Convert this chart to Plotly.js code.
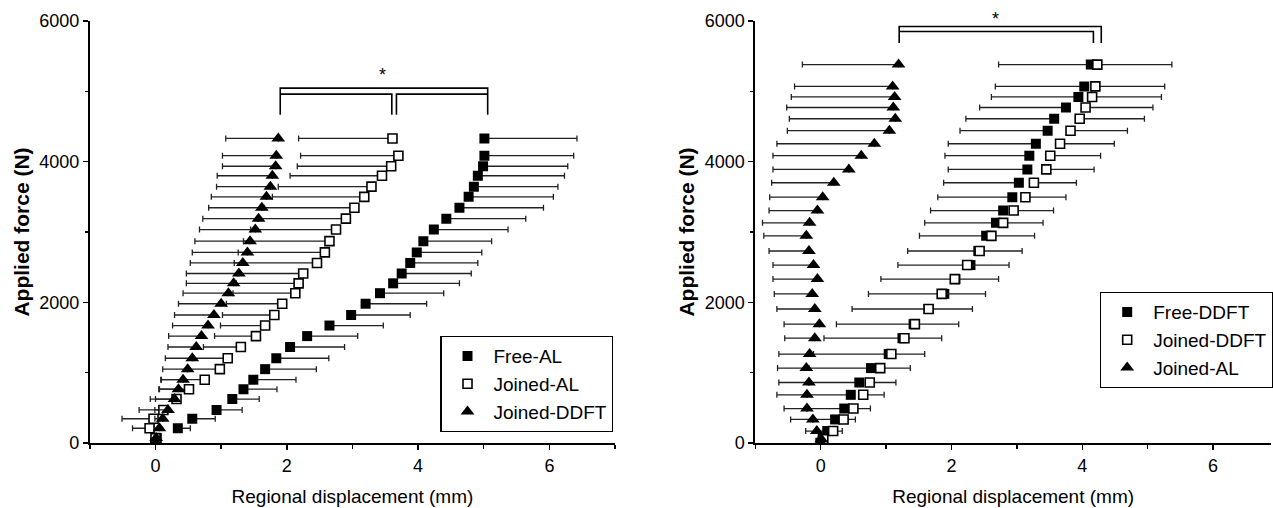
<!DOCTYPE html>
<html>
<head>
<meta charset="utf-8">
<script src="https://cdn.plot.ly/plotly-3.0.1.min.js"></script>
<style>
  html, body { margin: 0; padding: 0; background: #fff; overflow: hidden; }
  #chart { width: 1273px; height: 508px; }
</style>
</head>
<body>
<div id="chart"></div>
<script>
// ---------- Left panel data (force in N, displacement in mm) ----------
const forceLeft = [0, 70, 210, 345, 470, 625, 765, 900, 1050, 1205, 1365, 1520, 1670, 1820, 1980,
  2130, 2270, 2410, 2560, 2710, 2870, 3035, 3190, 3345, 3500, 3645, 3800, 3935, 4085, 4330];

const freeAL_x = [0, 0.02, 0.34, 0.56, 0.93, 1.17, 1.34, 1.49, 1.67, 1.84, 2.05, 2.31, 2.65, 2.98, 3.20,
  3.42, 3.62, 3.75, 3.88, 3.98, 4.08, 4.24, 4.43, 4.63, 4.77, 4.85, 4.91, 4.99, 5.01, 5.01];
const freeAL_err = [0, 0.02, 0.19, 0.35, 0.39, 0.41, 0.51, 0.65, 0.78, 0.80, 0.83, 0.77, 0.82, 0.90, 0.93,
  0.97, 1.01, 1.06, 1.03, 0.99, 1.04, 1.13, 1.21, 1.28, 1.29, 1.28, 1.32, 1.29, 1.36, 1.41];

const joinedAL_x = [0, 0.0, -0.09, -0.03, 0.12, 0.32, 0.51, 0.75, 0.98, 1.10, 1.30, 1.53, 1.67, 1.81, 1.93,
  2.13, 2.18, 2.25, 2.46, 2.58, 2.65, 2.75, 2.90, 3.03, 3.18, 3.29, 3.45, 3.59, 3.70, 3.61];
const joinedAL_err = [0, 0.05, 0.26, 0.48, 0.37, 0.40, 0.45, 0.66, 0.50, 0.52, 0.57, 0.63, 0.68, 0.79, 0.85,
  0.95, 0.95, 1.00, 1.26, 1.32, 1.31, 1.30, 1.35, 1.38, 1.40, 1.42, 1.40, 1.43, 1.49, 1.43];

const joinedDDFT_x = [0, 0.01, 0.06, 0.11, 0.19, 0.29, 0.35, 0.42, 0.49, 0.56, 0.62, 0.70, 0.80, 0.89, 1.00,
  1.11, 1.19, 1.27, 1.33, 1.40, 1.44, 1.52, 1.57, 1.62, 1.69, 1.75, 1.78, 1.83, 1.84, 1.87];
const joinedDDFT_err = [0, 0.03, 0.08, 0.12, 0.20, 0.29, 0.30, 0.34, 0.38, 0.41, 0.43, 0.50, 0.54, 0.60, 0.65,
  0.69, 0.72, 0.80, 0.80, 0.84, 0.84, 0.85, 0.85, 0.81, 0.84, 0.82, 0.84, 0.81, 0.82, 0.80];

// ---------- Right panel data ----------
const forceRight = [0, 55, 170, 335, 490, 685, 860, 1065, 1265, 1490, 1690, 1905, 2120, 2330, 2530,
  2730, 2945, 3130, 3305, 3495, 3700, 3890, 4085, 4255, 4440, 4610, 4770, 4920, 5070, 5380];

const freeDDFT_x = [0, 0.03, 0.10, 0.22, 0.36, 0.46, 0.59, 0.77, 1.04, 1.25, 1.42, 1.65, 1.89, 2.06, 2.29,
  2.41, 2.53, 2.68, 2.79, 2.93, 3.03, 3.16, 3.19, 3.29, 3.47, 3.57, 3.75, 3.94, 4.03, 4.13];
const freeDDFT_err = [0, 0.03, 0.16, 0.34, 0.57, 0.67, 0.77, 0.95, 1.15, 1.20, 1.18, 1.17, 1.16, 1.14, 1.11,
  1.08, 1.02, 1.09, 1.11, 1.14, 1.15, 1.21, 1.29, 1.34, 1.34, 1.35, 1.32, 1.33, 1.36, 1.41];

const joinedDDFT2_x = [0, 0.04, 0.19, 0.35, 0.50, 0.65, 0.75, 0.91, 1.08, 1.28, 1.44, 1.65, 1.85, 2.05, 2.24,
  2.43, 2.61, 2.79, 2.95, 3.13, 3.26, 3.45, 3.51, 3.66, 3.82, 3.96, 4.05, 4.15, 4.20, 4.23];
const joinedDDFT2_err = [0, 0.04, 0.14, 0.18, 0.26, 0.32, 0.40, 0.46, 0.51, 0.57, 0.67, 0.67, 0.67, 0.67, 0.64,
  0.65, 0.66, 0.61, 0.61, 0.62, 0.65, 0.73, 0.77, 0.83, 0.87, 0.99, 1.03, 1.06, 1.06, 1.14];

const joinedAL2_x = [0, 0.01, -0.06, -0.12, -0.21, -0.21, -0.18, -0.22, -0.17, -0.09, -0.02, -0.09, -0.13, -0.05, -0.11,
  -0.18, -0.22, -0.17, -0.05, 0.03, 0.20, 0.43, 0.62, 0.82, 1.05, 1.14, 1.11, 1.13, 1.10, 1.19];
const joinedAL2_err = [0, 0.05, 0.17, 0.34, 0.35, 0.46, 0.46, 0.44, 0.47, 0.46, 0.54, 0.58, 0.58, 0.68, 0.62,
  0.61, 0.65, 0.72, 0.74, 0.81, 0.95, 1.16, 1.35, 1.49, 1.56, 1.62, 1.63, 1.58, 1.50, 1.47];

// ---------- Styling ----------
const FONT = 'Liberation Sans, Arial, sans-serif';
const zeros = arr => arr.map(() => 0);

function errLeft(vals) {
  return {type: 'data', symmetric: false, array: zeros(vals), arrayminus: vals,
          color: '#222', thickness: 1.3, width: 3};
}
function errRight(vals) {
  return {type: 'data', symmetric: false, array: vals, arrayminus: zeros(vals),
          color: '#222', thickness: 1.3, width: 3};
}
const mFilled = {symbol: 'square', size: 10, color: '#000', line: {color: '#000', width: 0}};
const mOpenFill = {symbol: 'square', size: 9, color: '#fff', line: {color: '#000', width: 1.6}};
const mTri = {symbol: 'triangle-up', size: 12, color: '#000', line: {width: 0}};

const traces = [
  {x: freeAL_x, y: forceLeft, xaxis: 'x', yaxis: 'y', mode: 'markers', name: 'Free-AL',
   marker: mFilled, error_x: errRight(freeAL_err), legend: 'legend'},
  {x: joinedAL_x, y: forceLeft, xaxis: 'x', yaxis: 'y', mode: 'markers', name: 'Joined-AL',
   marker: mOpenFill, error_x: errLeft(joinedAL_err), legend: 'legend'},
  {x: joinedDDFT_x, y: forceLeft, xaxis: 'x', yaxis: 'y', mode: 'markers', name: 'Joined-DDFT',
   marker: mTri, error_x: errLeft(joinedDDFT_err), legend: 'legend'},

  {x: freeDDFT_x, y: forceRight, xaxis: 'x2', yaxis: 'y2', mode: 'markers', name: 'Free-DDFT',
   marker: mFilled, error_x: errLeft(freeDDFT_err), legend: 'legend2'},
  {x: joinedDDFT2_x, y: forceRight, xaxis: 'x2', yaxis: 'y2', mode: 'markers', name: 'Joined-DDFT',
   marker: mOpenFill, error_x: errRight(joinedDDFT2_err), legend: 'legend2'},
  {x: joinedAL2_x, y: forceRight, xaxis: 'x2', yaxis: 'y2', mode: 'markers', name: 'Joined-AL',
   marker: mTri, error_x: errLeft(joinedAL2_err), legend: 'legend2'}
];

const W = 1273, H = 508;
const yDom = [(H - 443) / H, (H - 21) / H];

function xAxis(domain, range, anchor) {
  return {
    domain: domain, range: range, anchor: anchor,
    showline: true, linecolor: '#000', linewidth: 2,
    ticks: 'outside', ticklen: 5, tickwidth: 1.5, tickcolor: '#000',
    tick0: 0, dtick: 2,
    minor: {dtick: 1, ticks: 'outside', ticklen: 4, tickwidth: 1.5, tickcolor: '#000'},
    showgrid: false, zeroline: false,
    tickfont: {family: FONT, size: 18, color: '#000'},
    title: {text: 'Regional displacement (mm)', font: {family: FONT, size: 19, color: '#000'}, standoff: 15}
  };
}
function yAxis(anchor) {
  return {
    domain: yDom, range: [0, 6000], anchor: anchor,
    showline: true, linecolor: '#000', linewidth: 2,
    ticks: 'outside', ticklen: 5, tickwidth: 1.5, tickcolor: '#000',
    tick0: 0, dtick: 2000,
    minor: {dtick: 1000, ticks: 'outside', ticklen: 3, tickwidth: 1.5, tickcolor: '#000'},
    showgrid: false, zeroline: false,
    tickfont: {family: FONT, size: 18, color: '#000'},
    title: {text: 'Applied force (N)', font: {family: FONT, size: 21, weight: 'bold', color: '#000'}, standoff: 4}
  };
}

const lineStyle = {color: '#000', width: 1.6};
const shapes = [
  // left panel significance brackets
  {type: 'path', xref: 'x', yref: 'y', path: 'M 1.90 4666 L 1.90 5045 L 5.06 5045 L 5.06 4666', line: lineStyle},
  {type: 'path', xref: 'x', yref: 'y', path: 'M 1.90 4960 L 3.60 4960 L 3.60 4666', line: lineStyle},
  {type: 'path', xref: 'x', yref: 'y', path: 'M 3.67 4666 L 3.67 4960 L 5.06 4960', line: lineStyle},
  // right panel significance brackets
  {type: 'path', xref: 'x2', yref: 'y2', path: 'M 1.20 5686 L 1.20 5922 L 4.29 5922 L 4.29 5686', line: lineStyle},
  {type: 'path', xref: 'x2', yref: 'y2', path: 'M 1.20 5851 L 4.17 5851 L 4.17 5686', line: lineStyle}
];

const annotations = [
  {xref: 'x', yref: 'y', x: 3.46, y: 5230, yanchor: 'middle', text: '*', showarrow: false,
   font: {family: FONT, size: 18, color: '#000'}},
  {xref: 'x2', yref: 'paper', x: 2.68, y: (H - 19) / H, yanchor: 'middle', text: '*', showarrow: false,
   font: {family: FONT, size: 18, color: '#000'}}
];

const legendBase = {
  bgcolor: '#fff', bordercolor: '#000', borderwidth: 1.2,
  font: {family: FONT, size: 19, color: '#000'},
  xanchor: 'left', yanchor: 'top', tracegroupgap: 0, itemwidth: 42
};

const layout = {
  width: W, height: H,
  margin: {l: 0, r: 0, t: 0, b: 0},
  paper_bgcolor: '#fff', plot_bgcolor: '#fff',
  font: {family: FONT, color: '#000'},
  xaxis: xAxis([90 / W, 616 / W], [-1, 7], 'y'),
  yaxis: yAxis('x'),
  xaxis2: xAxis([756.5 / W, 1], [-1, (1273 - 822) / 65.5], 'y2'),
  yaxis2: yAxis('x2'),
  legend: Object.assign({}, legendBase, {x: 441 / W, y: (H - 336) / H}),
  legend2: Object.assign({}, legendBase, {x: 1102 / W, y: (H - 292) / H}),
  shapes: shapes,
  annotations: annotations,
  showlegend: true
};

Plotly.newPlot('chart', traces, layout, {displayModeBar: false, staticPlot: true});
</script>
</body>
</html>
